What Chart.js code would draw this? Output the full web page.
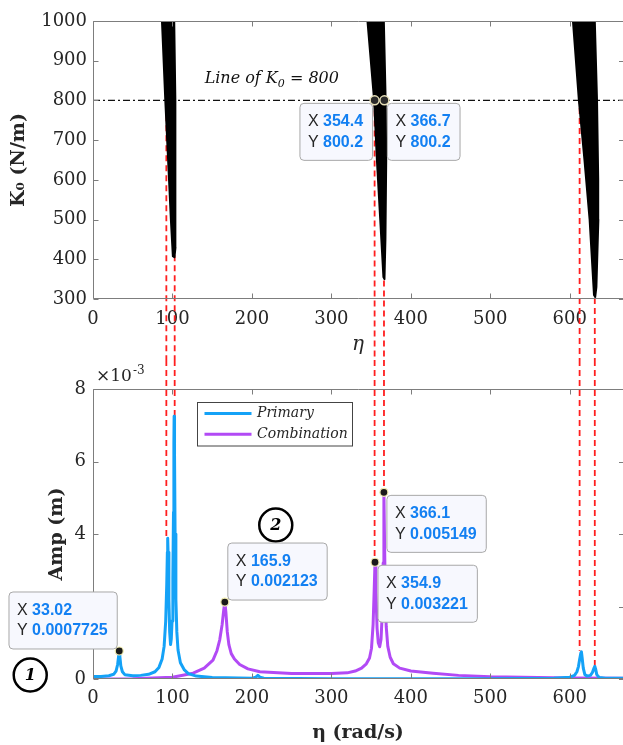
<!DOCTYPE html>
<html>
<head>
<meta charset="utf-8">
<title>K0 regions and amplitude vs eta</title>
<script src="https://cdn.jsdelivr.net/npm/chart.js@4.4.1/dist/chart.umd.min.js"></script>
<style>
  html, body { margin: 0; padding: 0; background: #ffffff; }
  #page { position: relative; width: 623px; height: 745px; overflow: hidden; }
  #page canvas { position: absolute; left: 0; }
  #topChart { top: 0; }
  #bottomChart { top: 360px; }
</style>
</head>
<body>
<div id="page">
  <canvas id="topChart" width="623" height="360"></canvas>
  <canvas id="bottomChart" width="623" height="385"></canvas>
</div>
<script>
// ---------- data ----------
const etaTicks = [0, 100, 200, 300, 400, 500, 600];
const k0Ticks = [300, 400, 500, 600, 700, 800, 900, 1000];
const ampTicks = [0, 0.002, 0.004, 0.006, 0.008];
const etaMax = 667;

// top panel: black K0 regions, outline traced round each one
const region1Eta = [86.8, 91, 95.7, 98, 100.5, 102.5, 103.8, 103.6, 103.7, 102.2, 86.8];
const region1K0 = [1000, 800, 600, 500, 408, 405, 430, 600, 800, 1000, 1000];
const region2Eta = [345.4, 353.8, 357.3, 361.5, 365.5, 366.8, 368, 369, 368.3, 366, 345.4];
const region2K0 = [1000, 800, 650, 500, 355, 350, 450, 650, 800, 1000, 1000];
const region3Eta = [604, 611.5, 618.5, 625, 630.5, 632, 633.5, 636, 635.8, 634.3, 631.5, 604];
const region3K0 = [1000, 800, 650, 500, 310, 305, 330, 500, 600, 800, 1000, 1000];
const k0LineEta = [0, 667];
const k0LineVal = [800, 800];

// bottom panel, amplitudes in x10^-3 m
const primaryEta = [0, 10, 20, 26, 29, 31, 32.2, 33.02, 33.8, 35, 37, 40, 50, 60, 70, 78, 83, 87, 89.5, 91.5,
  92.8, 93.6, 94, 94.5, 95.5, 96.5, 97.6, 98.5, 99.5, 100.5, 101.3, 101.8, 102.1, 102.6, 103.3, 104.3, 105.5, 107, 110, 115,
  120, 130, 150, 200, 205, 207.5, 210, 215, 300, 400, 500, 580, 600, 606, 609, 611, 612.5, 614, 614.7, 615.5,
  617, 619, 622, 626, 628.5, 630.5, 631.5, 632.5, 634, 637, 645, 667];
const primaryAmp = [0.07, 0.07, 0.09, 0.13, 0.22, 0.40, 0.62, 0.7725, 0.62, 0.36, 0.2, 0.12, 0.09, 0.1, 0.13, 0.2, 0.32, 0.55, 0.9, 1.6,
  2.6, 3.5, 3.88, 3.5, 2.2, 1.3, 0.95, 1.1, 1.6, 2.8, 4.6, 6.5, 7.25, 6.2, 4.0, 2.2, 1.3, 0.8, 0.45, 0.25,
  0.15, 0.08, 0.04, 0.02, 0.05, 0.1, 0.05, 0.02, 0.01, 0.01, 0.01, 0.02, 0.05, 0.1, 0.2, 0.35, 0.55, 0.72, 0.75, 0.6,
  0.3, 0.12, 0.08, 0.1, 0.18, 0.3, 0.35, 0.28, 0.12, 0.04, 0.02, 0.02];
const combEta = [0, 50, 100, 126, 140, 151, 156, 159.5, 162.5, 164.5, 165.9, 167.2, 169, 171, 174, 178, 184.6, 195, 210, 250,
  300, 320, 330, 338, 344, 348, 350.5, 352.5, 353.8, 354.9, 356, 357.5, 359, 360.8, 362.5, 364, 365.2, 366.1, 366.9, 367.8,
  369, 371, 374, 378, 386, 400, 428, 460, 500, 600, 667];
const combAmp = [0, 0.01, 0.05, 0.16, 0.3, 0.52, 0.78, 1.08, 1.5, 1.9, 2.123, 1.85, 1.3, 0.95, 0.7, 0.55, 0.4, 0.28, 0.2, 0.15,
  0.15, 0.17, 0.22, 0.3, 0.42, 0.58, 0.85, 1.5, 2.4, 3.221, 2.4, 1.4, 1.0, 0.89, 1.1, 1.8, 3.2, 5.149, 3.8, 2.4,
  1.45, 0.9, 0.6, 0.42, 0.3, 0.22, 0.16, 0.1, 0.06, 0.03, 0.02];

// data tips
const topTipEta = [354.4, 366.7];
const topTipK0 = [800.2, 800.2];
const botTipEta = [33.02, 165.9, 366.1, 354.9];
const botTipAmp = [0.0007725, 0.002123, 0.005149, 0.003221];

// red links between the panels
const linkEta = [92.3, 102.8, 354.4, 366.2, 612.4, 631.5];
const linkK0 = [813, 813, 800, 800, 806, 806];
const linkAmp = [0.00388, 0.00725, 0.003221, 0.005149, 0.00078, 0.00037];

// ---------- layout / style ----------
const topTipSide = [[-1, 1], [1, 1]];
const botTipSide = [[-1, -1], [1, -1], [1, 1], [1, 1]];
const k0LabelAt = [225, 854];
const circleMarks = [{ eta: -79, amp: 0.00011, text: '1' }, { eta: 230, amp: 0.00425, text: '2' }];

const serif = "'DejaVu Serif', serif";
const sans = "'Liberation Sans', Arial, sans-serif";
const ink = '#262626';
const blue = '#14a2f7';
const purple = '#b24af5';

function toPoints(xs, ys) {
    return xs.map((x, i) => ({ x: x, y: ys[i] }));
}

function drawFrame(chart) {
    const { ctx, chartArea: a, scales } = chart;
    const left = Math.round(a.left) + 0.5;
    const top = Math.round(a.top) + 0.5;
    const bottom = Math.round(a.bottom) - 0.5;
    const right = a.right;
    ctx.save();
    ctx.strokeStyle = '#7d7d7d';
    ctx.lineWidth = 1;
    ctx.beginPath();
    ctx.moveTo(right, top);
    ctx.lineTo(left, top);
    ctx.lineTo(left, bottom);
    ctx.lineTo(right, bottom);
    scales.x.ticks.forEach(t => {
        const x = Math.round(scales.x.getPixelForValue(t.value)) + 0.5;
        ctx.moveTo(x, bottom);
        ctx.lineTo(x, bottom - 5);
        ctx.moveTo(x, top);
        ctx.lineTo(x, top + 5);
    });
    scales.y.ticks.forEach(t => {
        const y = Math.round(scales.y.getPixelForValue(t.value)) + 0.5;
        ctx.moveTo(left, y);
        ctx.lineTo(left + 5, y);
        ctx.moveTo(right, y);
        ctx.lineTo(right - 4, y);
    });
    ctx.stroke();
    ctx.restore();
}

function drawTip(ctx, px, py, xv, yv, side) {
    const xs = String(xv);
    const ys = String(yv);
    ctx.save();
    ctx.font = `16px ${sans}`;
    const lw = ctx.measureText('X ').width;
    ctx.font = `bold 16px ${sans}`;
    const vw = Math.max(ctx.measureText(xs).width, ctx.measureText(ys).width);
    const w = lw + vw + 17.5;
    const h = 57;
    const bx = side[0] < 0 ? px - 2.5 - w : px + 2.5;
    const by = side[1] < 0 ? py - 2.5 - h : py + 2.5;
    ctx.beginPath();
    ctx.roundRect(bx + 0.5, by + 0.5, w, h, 4);
    ctx.fillStyle = '#f7f8fe';
    ctx.fill();
    ctx.strokeStyle = '#a8a8a8';
    ctx.lineWidth = 1;
    ctx.stroke();
    ctx.textBaseline = 'middle';
    [['X ', xs, by + 19], ['Y ', ys, by + 39.5]].forEach(([k, v, ty]) => {
        ctx.font = `16px ${sans}`;
        ctx.fillStyle = ink;
        ctx.fillText(k, bx + 8.5, ty);
        ctx.font = `bold 16px ${sans}`;
        ctx.fillStyle = '#1380f2';
        ctx.fillText(v, bx + 8.5 + lw, ty);
    });
    ctx.restore();
}

function drawLinks(chart, fromTop) {
    const { ctx, scales } = chart;
    ctx.save();
    ctx.strokeStyle = '#ff1f1f';
    ctx.lineWidth = 1.8;
    ctx.setLineDash([6, 4]);
    linkEta.forEach((e, i) => {
        const x = scales.x.getPixelForValue(e);
        ctx.beginPath();
        if (fromTop) {
            ctx.moveTo(x, scales.y.getPixelForValue(linkK0[i]));
            ctx.lineTo(x, chart.height);
        } else {
            ctx.moveTo(x, 0);
            ctx.lineTo(x, scales.y.getPixelForValue(linkAmp[i]));
        }
        ctx.stroke();
    });
    ctx.restore();
}

const regionFill = {
    id: 'regionFill',
    beforeDatasetDraw(chart, args) {
        const ds = chart.data.datasets[args.index];
        if (!ds.region) return;
        const ctx = chart.ctx;
        ctx.save();
        ctx.beginPath();
        args.meta.data.forEach((p, i) => (i ? ctx.lineTo(p.x, p.y) : ctx.moveTo(p.x, p.y)));
        ctx.closePath();
        ctx.fillStyle = ds.backgroundColor;
        ctx.fill();
        ctx.restore();
    }
};

const topDecor = {
    id: 'topDecor',
    beforeDatasetsDraw(chart) {
        drawLinks(chart, true);
    },
    afterDraw(chart) {
        const { ctx, scales } = chart;
        drawFrame(chart);
        // "Line of K0 = 800"
        ctx.save();
        ctx.fillStyle = '#111';
        ctx.textBaseline = 'middle';
        const parts = [['Line of K', 16, 0], ['0', 11, 5], [' = 800', 16, 0]];
        let total = 0;
        parts.forEach(p => { ctx.font = `italic ${p[1]}px ${serif}`; total += ctx.measureText(p[0]).width; });
        let x = scales.x.getPixelForValue(k0LabelAt[0]) - total / 2;
        const y = scales.y.getPixelForValue(k0LabelAt[1]);
        parts.forEach(p => {
            ctx.font = `italic ${p[1]}px ${serif}`;
            ctx.fillText(p[0], x, y + p[2]);
            x += ctx.measureText(p[0]).width;
        });
        ctx.restore();
        topTipEta.forEach((e, i) => {
            drawTip(ctx, scales.x.getPixelForValue(e), scales.y.getPixelForValue(topTipK0[i]), e, topTipK0[i], topTipSide[i]);
        });
    }
};

const bottomDecor = {
    id: 'bottomDecor',
    beforeDatasetsDraw(chart) {
        drawLinks(chart, false);
    },
    afterDraw(chart) {
        const { ctx, scales, chartArea: a } = chart;
        drawFrame(chart);
        ctx.save();
        // x10^-3 multiplier
        ctx.fillStyle = ink;
        ctx.textBaseline = 'middle';
        ctx.font = `17px ${serif}`;
        ctx.fillText('\u00d710', a.left + 3, a.top - 12);
        const mw = ctx.measureText('\u00d710').width;
        ctx.font = `12px ${serif}`;
        ctx.fillText('-3', a.left + 3 + mw + 1, a.top - 18);
        // legend
        const lx = Math.round(a.left + 104) + 0.5;
        const ly = Math.round(a.top + 13) + 0.5;
        ctx.fillStyle = '#ffffff';
        ctx.fillRect(lx, ly, 155, 43.5);
        ctx.strokeStyle = '#444';
        ctx.lineWidth = 1;
        ctx.strokeRect(lx, ly, 155, 43.5);
        chart.data.datasets.filter(d => d.showLine).forEach((d, i) => {
            const yy = ly + 11 + i * 20.7;
            ctx.strokeStyle = d.borderColor;
            ctx.lineWidth = 3;
            ctx.beginPath();
            ctx.moveTo(lx + 7, yy);
            ctx.lineTo(lx + 54, yy);
            ctx.stroke();
            ctx.fillStyle = ink;
            ctx.font = `italic 14px ${serif}`;
            ctx.fillText(d.label, lx + 59.5, yy);
        });
        // circled numbers
        circleMarks.forEach(m => {
            const cx = scales.x.getPixelForValue(m.eta);
            const cy = scales.y.getPixelForValue(m.amp);
            ctx.beginPath();
            ctx.arc(cx, cy, 16.5, 0, Math.PI * 2);
            ctx.strokeStyle = '#000';
            ctx.lineWidth = 2.5;
            ctx.stroke();
            ctx.fillStyle = '#000';
            ctx.textAlign = 'center';
            ctx.font = `italic bold 16px ${serif}`;
            ctx.fillText(m.text, cx, cy + 1);
            ctx.textAlign = 'left';
        });
        ctx.restore();
        botTipEta.forEach((e, i) => {
            drawTip(ctx, scales.x.getPixelForValue(e), scales.y.getPixelForValue(botTipAmp[i]), e, botTipAmp[i], botTipSide[i]);
        });
    }
};

function etaScale(height, pad, titleText, titleFont, titlePad) {
    return {
        type: 'linear',
        min: 0,
        max: etaMax,
        grid: { display: false, drawTicks: false },
        border: { display: false },
        afterBuildTicks: s => { s.ticks = etaTicks.map(v => ({ value: v })); },
        afterFit: s => { s.height = height; s.paddingLeft = 0; s.paddingRight = 0; },
        ticks: { padding: pad, color: ink, maxRotation: 0, autoSkip: false, font: { family: serif, size: 18 }, callback: v => String(v) },
        title: { display: true, text: titleText, color: ink, font: titleFont, padding: { top: 0, bottom: titlePad } }
    };
}

function valueScale(min, max, tickVals, pad, fmt, titleText, titlePad) {
    return {
        min: min,
        max: max,
        grid: { display: false, drawTicks: false },
        border: { display: false },
        afterBuildTicks: s => { s.ticks = tickVals.map(v => ({ value: v })); },
        afterFit: s => { s.width = 93; },
        ticks: { padding: pad, color: ink, font: { family: serif, size: 18 }, callback: fmt },
        title: { display: true, text: titleText, color: ink, font: { family: serif, size: 19, weight: 'bold' }, padding: { top: titlePad, bottom: 0 } }
    };
}

function baseOptions(padTop) {
    return {
        responsive: false,
        animation: false,
        devicePixelRatio: 1,
        events: [],
        layout: { autoPadding: false, padding: { top: padTop, left: 0, right: 0, bottom: 0 } },
        plugins: { legend: { display: false }, tooltip: { enabled: false } }
    };
}

function loadCharts() {
    const topOptions = baseOptions(21);
    topOptions.scales = {
        x: etaScale(61, 9.5, '\u03b7', { family: serif, size: 20, style: 'italic' }, 3),
        y: valueScale(300, 1000, k0Ticks, 6, v => String(v), 'K\u2080 (N/m)', 8)
    };
    new Chart(document.getElementById('topChart'), {
        type: 'scatter',
        data: {
            datasets: [
                { data: toPoints(topTipEta, topTipK0), pointRadius: 4.5, pointBackgroundColor: '#2b2b2b', pointBorderColor: '#e8e1b8', pointBorderWidth: 1.5 },
                { region: true, data: toPoints(region1Eta, region1K0), showLine: true, borderColor: '#000', backgroundColor: '#000', borderWidth: 2, borderJoinStyle: 'round', pointRadius: 0 },
                { region: true, data: toPoints(region2Eta, region2K0), showLine: true, borderColor: '#000', backgroundColor: '#000', borderWidth: 2, borderJoinStyle: 'round', pointRadius: 0 },
                { region: true, data: toPoints(region3Eta, region3K0), showLine: true, borderColor: '#000', backgroundColor: '#000', borderWidth: 2, borderJoinStyle: 'round', pointRadius: 0 },
                { data: toPoints(k0LineEta, k0LineVal), showLine: true, borderColor: '#111', borderWidth: 1.2, borderDash: [7, 3, 2, 3], pointRadius: 0 }
            ]
        },
        options: topOptions,
        plugins: [regionFill, topDecor]
    });

    const bottomOptions = baseOptions(29);
    bottomOptions.scales = {
        x: etaScale(66, 8.2, '\u03b7 (rad/s)', { family: serif, size: 19, weight: 'bold' }, 1),
        y: valueScale(0, 0.008, ampTicks, 7, v => String(Math.round(v * 1000)), 'Amp (m)', 46)
    };
    new Chart(document.getElementById('bottomChart'), {
        type: 'scatter',
        data: {
            datasets: [
                { data: toPoints(botTipEta, botTipAmp), pointRadius: 4, pointBackgroundColor: '#1a1a1a', pointBorderColor: '#f3eeb0', pointBorderWidth: 1.2 },
                { label: 'Primary', data: toPoints(primaryEta, primaryAmp.map(a => a / 1000)), showLine: true, borderColor: blue, borderWidth: 3, borderJoinStyle: 'round', pointRadius: 0 },
                { label: 'Combination', data: toPoints(combEta, combAmp.map(a => a / 1000)), showLine: true, borderColor: purple, borderWidth: 3, borderJoinStyle: 'round', pointRadius: 0 }
            ]
        },
        options: bottomOptions,
        plugins: [bottomDecor]
    });
}

document.addEventListener('DOMContentLoaded', () => {
    loadCharts();
});
</script>
</body>
</html>
